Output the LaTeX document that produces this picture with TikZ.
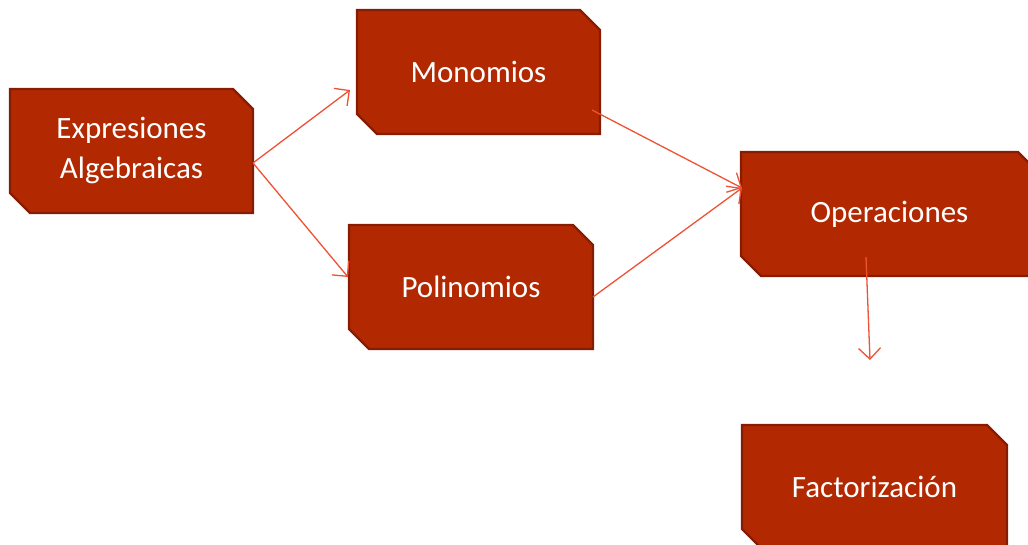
\documentclass[tikz,border=0pt]{standalone}
\usepackage{fontspec}
\setmainfont{Carlito}
\usetikzlibrary{arrows.meta,shapes.misc}

\definecolor{boxred}{RGB}{178,40,0}
\definecolor{boxedge}{RGB}{135,28,5}
\definecolor{linkred}{RGB}{238,82,52}

\tikzset{
  topic/.style={chamfered rectangle,
    chamfered rectangle corners={north east,south west},
    chamfered rectangle xsep=10pt, chamfered rectangle ysep=10pt,
    fill=boxred, draw=boxedge, line width=2.2pt,
    text=white, align=center, inner sep=0pt,
    minimum height=124pt, font=\fontsize{31}{40}\selectfont},
  link/.style={linkred, line width=1.3pt,
    -{Straight Barb[length=11pt,width=22pt,line width=1.3pt]}}
}

\begin{document}
\begin{tikzpicture}[x=1pt,y=-1pt]
    \useasboundingbox (0,0) rectangle (1028,545);
    \clip (0,0) rectangle (1028,545);

    \node[topic, minimum width=243pt] (expr) at (131.5,151) {Expresiones\\Algebraicas};
    \node[topic, minimum width=243pt] (mono) at (478.5,72) {Monomios};
    \node[topic, minimum width=244pt] (poli) at (471,287) {Polinomios};
    \node[topic, minimum width=297pt] (oper) at (889.5,214) {Operaciones};
    \node[topic, minimum width=265pt] (fact) at (874.5,487) {Factorización};

    \coordinate (e0) at (253,163);
    \coordinate (m1) at (350,90);
    \coordinate (m0) at (592,110);
    \coordinate (p1) at (348,277);
    \coordinate (p0) at (593,297);
    \coordinate (o1) at (742,188);
    \coordinate (o0) at (866,257);
    \coordinate (f1) at (870,360);

    \draw[link] (e0) -- (m1);
    \draw[link] (e0) -- (p1);
    \draw[link] (m0) -- (o1);
    \draw[link] (p0) -- (o1);
    \draw[link] (o0) -- (f1);
\end{tikzpicture}
\end{document}
